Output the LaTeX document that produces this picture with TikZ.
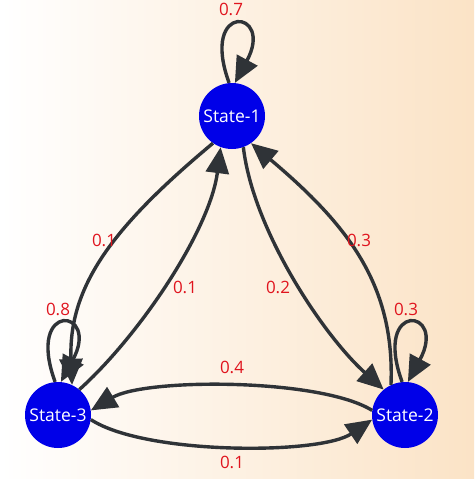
\documentclass[tikz,border=0pt]{standalone}
\usepackage{fontspec}
\setmainfont{Open Sans}
\usetikzlibrary{arrows.meta}
\definecolor{edgec}{HTML}{2F3337}
\definecolor{lblc}{HTML}{E0141E}
\definecolor{nodec}{HTML}{0000E8}
\definecolor{bgr}{HTML}{FBE3C6}
\definecolor{bgm}{HTML}{FEF6EE}
\tikzset{
  state/.style={circle, fill=nodec, draw=none, minimum size=66pt, inner sep=0pt,
    text=white, font=\fontsize{17.5}{20}\selectfont},
  edge/.style={draw=edgec, line width=3.4pt, -{Triangle[length=26pt,width=23pt]}},
  lbl/.style={text=lblc, font=\fontsize{17}{19}\selectfont, inner sep=0pt}
}
\begin{document}
\begin{tikzpicture}[x=1pt,y=-1pt]
\shade[left color=white, middle color=bgm, right color=bgr] (0,0) rectangle (474,479);
\useasboundingbox (0,0) rectangle (474,479);

\node[state] (s1) at (232,116) {State-1};
\node[state] (s2) at (405,415) {State-2};
\node[state] (s3) at (58,415) {State-3};

% self loops
\draw[edge] (s1.95) .. controls +(-30,-82) and +(40,-74) .. (s1.85);
\draw[edge] (s3.95) .. controls +(-30,-82) and +(40,-74) .. (s3.85);
\draw[edge] (s2.95) .. controls +(-30,-82) and +(40,-74) .. (s2.85);

% left pair
\draw[edge] (s1.235) .. controls (115,225) and (68,285) .. (s3.65);
\draw[edge] (s3.50) .. controls (140,335) and (210,230) .. (s1.250);
% right pair
\draw[edge] (s1.290) .. controls (253,230) and (323,335) .. (s2.130);
\draw[edge] (s2.115) .. controls (395,285) and (348,225) .. (s1.305);
% bottom pair
\draw[edge] (s2.172) .. controls (320,378) and (145,378) .. (s3.8);
\draw[edge] (s3.352) .. controls (145,455) and (320,455) .. (s2.188);

% labels
\node[lbl] (l11) at (231,9) {0.7};
\node[lbl] (l33) at (58,309) {0.8};
\node[lbl] (l22) at (406,309) {0.3};
\node[lbl] (l13) at (104,240) {0.1};
\node[lbl] (l31) at (185,287) {0.1};
\node[lbl] (l12) at (278,287) {0.2};
\node[lbl] (l21) at (359,240) {0.3};
\node[lbl] (l23) at (232,367) {0.4};
\node[lbl] (l32) at (232,462) {0.1};
\end{tikzpicture}
\end{document}
